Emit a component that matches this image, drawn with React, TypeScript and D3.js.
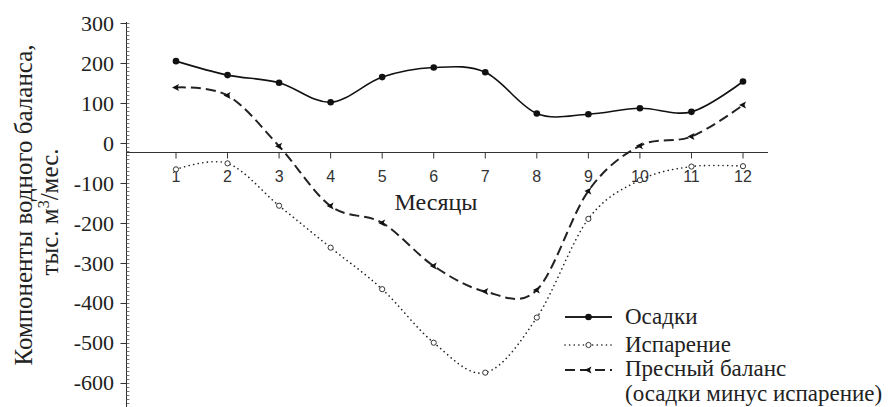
import React, { useEffect, useRef } from 'react';
import * as d3 from 'd3';

const months = [1, 2, 3, 4, 5, 6, 7, 8, 9, 10, 11, 12];
const precipitation = [205, 170, 151, 102, 165, 189, 177, 74, 72, 87, 78, 154];
const evaporation = [-66, -51, -157, -262, -366, -500, -575, -437, -190, -93, -59, -58];
const freshBalance = [139, 119, -8, -158, -200, -308, -372, -368, -120, -7, 16, 95];
const yTicks = [300, 200, 100, 0, -100, -200, -300, -400, -500, -600];

const legendItems = [
  { key: 'precip', label: ['Осадки'] },
  { key: 'evap', label: ['Испарение'] },
  { key: 'net', label: ['Пресный баланс', '(осадки минус испарение)'] },
];

const SERIF = '"Liberation Serif", "Times New Roman", serif';
const SANS = '"Liberation Sans", Arial, sans-serif';

const App: React.FC = () => {
  const svgRef = useRef<SVGSVGElement>(null);

  useEffect(() => {
    if (!svgRef.current) return;
    const svg = d3.select(svgRef.current);
    svg.selectAll('*').remove();

    const x = d3.scaleLinear().domain([1, 12]).range([176, 743]);
    const y = d3.scaleLinear().domain([-661, 303]).range([407, 22]);
    const axisX = 126.5;
    const xAxisY = 152.5;

    // y axis line with major ticks to the left and minor comb to the right
    svg.append('line')
      .attr('x1', axisX).attr('x2', axisX)
      .attr('y1', y(303)).attr('y2', 407)
      .attr('stroke', '#333').attr('stroke-width', 1);

    const minor = d3.range(-660, 301, 10);
    svg.append('g').selectAll('line')
      .data(minor)
      .enter()
      .append('line')
      .attr('x1', axisX).attr('x2', axisX + 3)
      .attr('y1', d => Math.round(y(d)) + 0.5)
      .attr('y2', d => Math.round(y(d)) + 0.5)
      .attr('stroke', '#555').attr('stroke-width', 0.8);

    svg.append('g').selectAll('line')
      .data(yTicks)
      .enter()
      .append('line')
      .attr('x1', axisX - 6).attr('x2', axisX)
      .attr('y1', d => Math.round(y(d)) + 0.5)
      .attr('y2', d => Math.round(y(d)) + 0.5)
      .attr('stroke', '#333').attr('stroke-width', 1);

    svg.append('g').selectAll('text')
      .data(yTicks)
      .enter()
      .append('text')
      .attr('x', 114)
      .attr('y', d => y(d))
      .attr('dy', '0.35em')
      .attr('text-anchor', 'end')
      .attr('font-family', SERIF)
      .attr('font-size', 22)
      .attr('fill', '#222')
      .text(d => (d < 0 ? '-' + Math.abs(d) : String(d)));

    // x axis
    svg.append('line')
      .attr('x1', axisX).attr('x2', 768)
      .attr('y1', xAxisY).attr('y2', xAxisY)
      .attr('stroke', '#333').attr('stroke-width', 1);

    svg.append('g').selectAll('line')
      .data(months)
      .enter()
      .append('line')
      .attr('x1', d => x(d)).attr('x2', d => x(d))
      .attr('y1', xAxisY).attr('y2', xAxisY + 6)
      .attr('stroke', '#333').attr('stroke-width', 1);

    svg.append('g').selectAll('text')
      .data(months)
      .enter()
      .append('text')
      .attr('x', d => x(d))
      .attr('y', 182)
      .attr('text-anchor', 'middle')
      .attr('font-family', SANS)
      .attr('font-size', 16)
      .attr('fill', '#333')
      .text(d => d);

    svg.append('text')
      .attr('x', 436)
      .attr('y', 210)
      .attr('text-anchor', 'middle')
      .attr('font-family', SERIF)
      .attr('font-size', 24)
      .attr('fill', '#222')
      .text('Месяцы');

    // y title
    const title = svg.append('g')
      .attr('transform', 'translate(32,205) rotate(-90)')
      .attr('font-family', SERIF)
      .attr('font-size', 25)
      .attr('fill', '#222')
      .attr('text-anchor', 'middle');
    title.append('text').attr('x', 0).attr('y', 0).text('Компоненты водного баланса,');
    const t2 = title.append('text').attr('x', -7).attr('y', 26);
    t2.append('tspan').text('тыс. м');
    t2.append('tspan').attr('font-size', 16).attr('dy', -9).text('3');
    t2.append('tspan').attr('dy', 9).text('/мес.');

    const curve = d3.curveCardinal.tension(0);
    const line = d3.line<number>()
      .x((_, i) => x(months[i]))
      .y(d => y(d))
      .curve(curve);

    // evaporation (dotted)
    svg.append('path')
      .attr('d', line(evaporation))
      .attr('fill', 'none')
      .attr('stroke', '#222')
      .attr('stroke-width', 1.6)
      .attr('stroke-linecap', 'round')
      .attr('stroke-dasharray', '0.1,4.5');

    svg.append('g').selectAll('circle')
      .data(evaporation)
      .enter()
      .append('circle')
      .attr('cx', (_, i) => x(months[i]))
      .attr('cy', d => y(d))
      .attr('r', 2.6)
      .attr('fill', '#fff')
      .attr('stroke', '#333')
      .attr('stroke-width', 1);

    // fresh balance (dashed)
    svg.append('path')
      .attr('d', line(freshBalance))
      .attr('fill', 'none')
      .attr('stroke', '#222')
      .attr('stroke-width', 2)
      .attr('stroke-dasharray', '10,5');

    const tri = 'M-4,0 L3,-3.5 L1.5,0 L3,3.5 Z';
    svg.append('g').selectAll('path')
      .data(freshBalance)
      .enter()
      .append('path')
      .attr('d', tri)
      .attr('transform', (d, i) => `translate(${x(months[i])},${y(d)})`)
      .attr('fill', '#111');

    // precipitation (solid)
    svg.append('path')
      .attr('d', line(precipitation))
      .attr('fill', 'none')
      .attr('stroke', '#111')
      .attr('stroke-width', 1.6);

    svg.append('g').selectAll('circle')
      .data(precipitation)
      .enter()
      .append('circle')
      .attr('cx', (_, i) => x(months[i]))
      .attr('cy', d => y(d))
      .attr('r', 3.3)
      .attr('fill', '#111');

    // legend
    const legendY = [317, 345, 370];
    const baselineOffset = [7, 7, 6];
    const lg = svg.append('g');
    legendItems.forEach((item, i) => {
      const ly = legendY[i];
      const row = lg.append('g').attr('transform', `translate(0,${ly})`);
      const ln = row.append('line')
        .attr('x1', 565).attr('x2', 612)
        .attr('y1', 0).attr('y2', 0)
        .attr('stroke', '#222');
      if (item.key === 'precip') {
        ln.attr('stroke-width', 2);
        row.append('circle').attr('cx', 588.5).attr('cy', 0).attr('r', 3.3).attr('fill', '#111');
      } else if (item.key === 'evap') {
        ln.attr('stroke-width', 1.6).attr('stroke-linecap', 'round').attr('stroke-dasharray', '0.1,4.5');
        row.append('circle').attr('cx', 588.5).attr('cy', 0).attr('r', 2.6)
          .attr('fill', '#fff').attr('stroke', '#333').attr('stroke-width', 1);
      } else {
        ln.attr('stroke-width', 2).attr('stroke-dasharray', '10,5');
        row.append('path').attr('d', tri).attr('transform', 'translate(588.5,0)').attr('fill', '#111');
      }
      item.label.forEach((txt, j) => {
        row.append('text')
          .attr('x', 625)
          .attr('y', baselineOffset[i] + j * 25)
          .attr('font-family', SERIF)
          .attr('font-size', 23)
          .attr('fill', '#222')
          .text(txt);
      });
    });
  }, []);

  return (
    <div>
      <style>{`body{margin:0;background:#fff}`}</style>
      <svg ref={svgRef} width={895} height={407} style={{ display: 'block' }} />
    </div>
  );
};

export default App;
